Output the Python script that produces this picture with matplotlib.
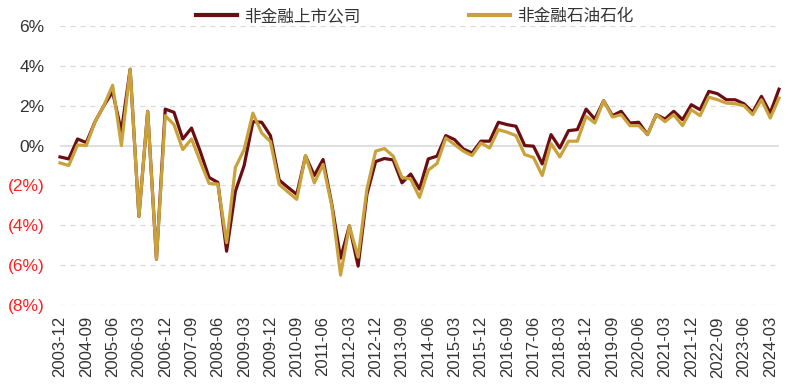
import numpy as np
import pandas as pd
import matplotlib
matplotlib.use("Agg")
import matplotlib.pyplot as plt
from matplotlib.ticker import FixedLocator

plt.rcParams['font.family'] = ['Liberation Sans', 'DejaVu Sans']

# quarterly, 2003-12 .. 2024-06
quarters = pd.period_range('2003Q4', '2024Q2', freq='Q')
labels = [f"{q.year}-{q.quarter * 3:02d}" for q in quarters]

nonfin_all = [-0.57, -0.67, 0.33, 0.15, 1.2, 2.0, 2.7, 0.7, 3.83, -3.55, 1.72, -5.7,
              1.83, 1.67, 0.33, 0.88, -0.3, -1.6, -1.85, -5.3, -2.3, -1.0, 1.2, 1.17,
              0.5, -1.73, -2.1, -2.45, -0.52, -1.5, -0.7, -2.95, -5.65, -4.03, -6.05, -2.45,
              -0.8, -0.65, -0.72, -1.87, -1.43, -2.18, -0.67, -0.53, 0.5, 0.3, -0.17, -0.37,
              0.22, 0.22, 1.17, 1.05, 0.97, 0.0, -0.03, -0.92, 0.55, -0.12, 0.75, 0.8,
              1.83, 1.33, 2.25, 1.5, 1.72, 1.13, 1.17, 0.55, 1.55, 1.33, 1.72, 1.3,
              2.05, 1.8, 2.72, 2.6, 2.3, 2.3, 2.1, 1.67, 2.47, 1.63, 2.83]
nonfin_oil = [-0.87, -1.0, 0.03, 0.0, 1.2, 2.0, 3.03, 0.0, 3.83, -3.55, 1.72, -5.7,
              1.5, 1.05, -0.2, 0.33, -0.8, -1.9, -1.93, -4.87, -1.1, -0.2, 1.63, 0.63,
              0.2, -1.95, -2.33, -2.7, -0.5, -1.87, -0.95, -3.03, -6.5, -4.03, -5.6, -2.2,
              -0.28, -0.15, -0.53, -1.6, -1.68, -2.6, -1.23, -0.9, 0.38, 0.05, -0.28, -0.5,
              0.13, -0.12, 0.8, 0.67, 0.5, -0.45, -0.6, -1.5, 0.1, -0.57, 0.22, 0.22,
              1.47, 1.13, 2.25, 1.43, 1.55, 1.0, 1.0, 0.55, 1.55, 1.2, 1.55, 1.0,
              1.8, 1.5, 2.43, 2.3, 2.13, 2.1, 2.0, 1.55, 2.3, 1.38, 2.38]

yticks = [6, 4, 2, 0, -2, -4, -6, -8]

dark = '#6B0E12'
gold = '#C9A23C'

fig = plt.figure(figsize=(7.94, 3.90), dpi=100)
ax = fig.add_axes([60 / 794, 1 - 305 / 390, (779 - 60) / 794, (305 - 26) / 390])

x = np.arange(len(labels))
ax.plot(x, nonfin_all, color=dark, lw=2.3, label='非金融上市公司', zorder=3, clip_on=False)
ax.plot(x, nonfin_oil, color=gold, lw=2.3, label='非金融石油石化', zorder=4, clip_on=False)

ax.set_xlim(0, len(labels) - 1)
ax.set_ylim(-8, 6)

for v in yticks:
    if v == 0:
        ax.axhline(v, color='#d9d9d9', lw=1.2, zorder=1)
    else:
        ax.axhline(v, color='#d9d9d9', lw=0.9, ls=(0, (4, 4)), zorder=1)

ax.yaxis.set_major_locator(FixedLocator(yticks))
ylabs = [f"{v}%" if v >= 0 else f"({-v}%)" for v in yticks]
ax.set_yticklabels(ylabs, fontsize=12.5)
for t, v in zip(ax.get_yticklabels(), yticks):
    t.set_color('#FF2020' if v < 0 else '#333333')

ax.xaxis.set_major_locator(FixedLocator(x[::3]))
ax.set_xticklabels(labels[::3], rotation=90, fontsize=12, color='#333333')

ax.tick_params(length=0)
ax.tick_params(axis='y', pad=11)
ax.tick_params(axis='x', pad=8)
for s in ax.spines.values():
    s.set_visible(False)

leg = fig.legend(loc='upper center', bbox_to_anchor=(0.522, 1.018), ncol=2, frameon=False,
                 prop={'family': ['Noto Sans CJK SC', 'DejaVu Sans'], 'size': 12},
                 handlelength=2.5, columnspacing=6.5, handletextpad=0.4)
for line in leg.get_lines():
    line.set_linewidth(3)
for t in leg.get_texts():
    t.set_color('#333333')

fig.savefig('out.png', dpi=100)
